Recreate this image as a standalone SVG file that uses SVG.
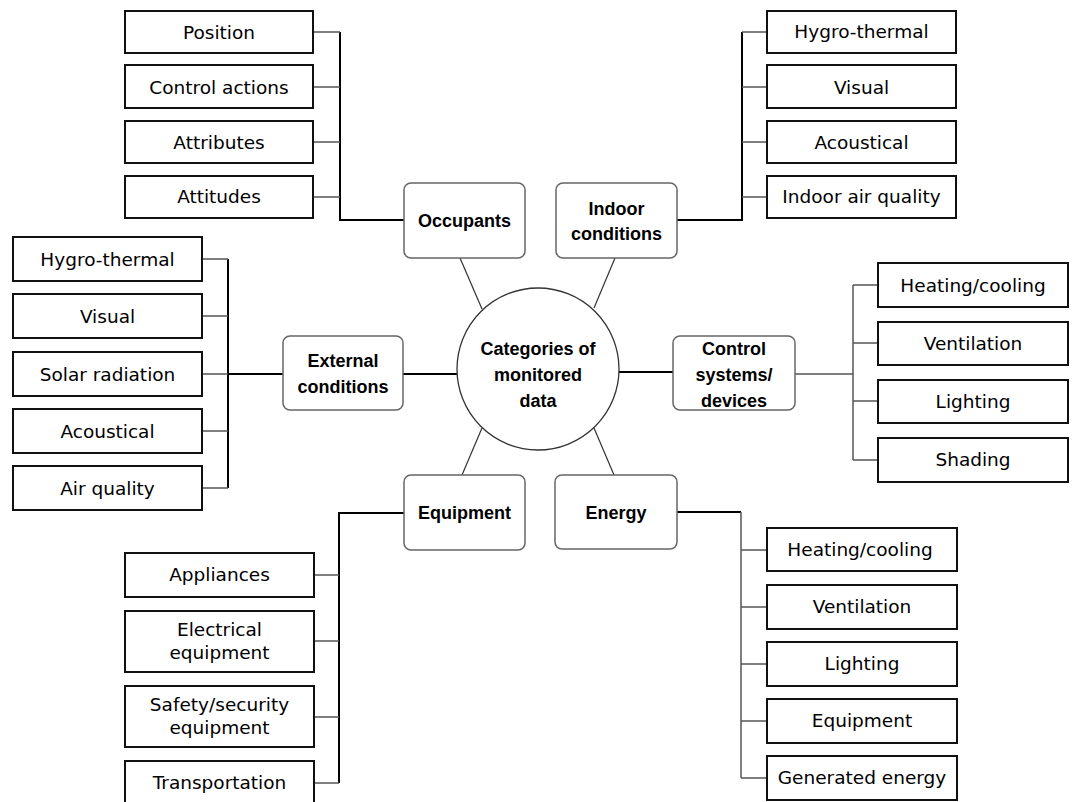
<svg xmlns="http://www.w3.org/2000/svg" width="1072" height="802" viewBox="0 0 1072 802">
<style>
.leaf rect{fill:#fff;stroke:#111;stroke-width:2}
.leaf text{font-family:"DejaVu Sans",Verdana,sans-serif;font-size:18.5px;fill:#000;text-anchor:middle}
.cat rect{fill:#fff;stroke:#666;stroke-width:1.5}
.cat text,.hub text{font-family:"Liberation Sans",Arial,sans-serif;font-weight:bold;font-size:18px;fill:#000;text-anchor:middle}
.hub circle{fill:#fff;stroke:#333;stroke-width:1.3}
.bus{stroke:#000;stroke-width:2;fill:none}
.stub{stroke:#555;stroke-width:1.5;fill:none}
.spoke{stroke:#333;stroke-width:1.2;fill:none}
</style>
<rect width="1072" height="802" fill="#fff"/>
<g id="connectors">
<!-- spokes -->
<line class="spoke" x1="460" y1="258" x2="482" y2="309"/>
<line class="spoke" x1="615" y1="258" x2="594" y2="308"/>
<line class="spoke" x1="482" y1="428" x2="462" y2="475"/>
<line class="spoke" x1="594" y1="428" x2="614" y2="475"/>
<line class="bus" x1="403" y1="374" x2="457" y2="374"/>
<line class="bus" x1="619" y1="372" x2="673" y2="372"/>
<!-- occupants -->
<polyline class="bus" points="340,32 340,220 404,220"/>
<line class="stub" x1="313" y1="32" x2="340" y2="32"/>
<line class="stub" x1="313" y1="87" x2="340" y2="87"/>
<line class="stub" x1="313" y1="142" x2="340" y2="142"/>
<line class="stub" x1="313" y1="197" x2="340" y2="197"/>
<!-- indoor -->
<polyline class="bus" points="742,32 742,220 677,220"/>
<line class="stub" x1="742" y1="32" x2="767" y2="32"/>
<line class="stub" x1="742" y1="87" x2="767" y2="87"/>
<line class="stub" x1="742" y1="142" x2="767" y2="142"/>
<line class="stub" x1="742" y1="197" x2="767" y2="197"/>
<!-- external -->
<line class="bus" x1="228" y1="259" x2="228" y2="488"/>
<line class="bus" x1="228" y1="374" x2="283" y2="374"/>
<line class="stub" x1="202" y1="259" x2="228" y2="259"/>
<line class="stub" x1="202" y1="316" x2="228" y2="316"/>
<line class="stub" x1="202" y1="374" x2="228" y2="374"/>
<line class="stub" x1="202" y1="431" x2="228" y2="431"/>
<line class="stub" x1="202" y1="488" x2="228" y2="488"/>
<!-- control -->
<line class="stub" x1="795" y1="374" x2="853" y2="374"/>
<line class="stub" x1="853" y1="285" x2="853" y2="460"/>
<line class="stub" x1="853" y1="285" x2="878" y2="285"/>
<line class="stub" x1="853" y1="343" x2="878" y2="343"/>
<line class="stub" x1="853" y1="401" x2="878" y2="401"/>
<line class="stub" x1="853" y1="460" x2="878" y2="460"/>
<!-- equipment -->
<polyline class="bus" points="404,513 339,513 339,783"/>
<line class="stub" x1="314" y1="575" x2="339" y2="575"/>
<line class="stub" x1="314" y1="641" x2="339" y2="641"/>
<line class="stub" x1="314" y1="717" x2="339" y2="717"/>
<line class="stub" x1="314" y1="783" x2="339" y2="783"/>
<!-- energy -->
<polyline class="bus" points="677,512 741,512"/>
<line class="stub" x1="741" y1="512" x2="741" y2="778"/>
<line class="stub" x1="741" y1="550" x2="767" y2="550"/>
<line class="stub" x1="741" y1="607" x2="767" y2="607"/>
<line class="stub" x1="741" y1="664" x2="767" y2="664"/>
<line class="stub" x1="741" y1="721" x2="767" y2="721"/>
<line class="stub" x1="741" y1="778" x2="767" y2="778"/>
</g>
<g id="hub" class="hub">
<circle cx="538" cy="369" r="81"/>
<text x="538" y="355">Categories of</text>
<text x="538" y="381">monitored</text>
<text x="538" y="407">data</text>
</g>
<g id="occupants" class="cat"><rect x="404" y="183" width="121" height="75" rx="7"/><text x="464.5" y="227">Occupants</text></g>
<g id="indoor" class="cat"><rect x="556" y="183" width="121" height="75" rx="7"/><text x="616.5" y="215">Indoor</text><text x="616.5" y="240">conditions</text></g>
<g id="external" class="cat"><rect x="283" y="336" width="120" height="74" rx="7"/><text x="343" y="367">External</text><text x="343" y="393">conditions</text></g>
<g id="control" class="cat"><rect x="673" y="336" width="122" height="74" rx="7"/><text x="734" y="355">Control</text><text x="734" y="381">systems/</text><text x="734" y="407">devices</text></g>
<g id="equipment" class="cat"><rect x="404" y="475" width="121" height="75" rx="7"/><text x="464.5" y="519">Equipment</text></g>
<g id="energy" class="cat"><rect x="555" y="475" width="122" height="74" rx="7"/><text x="616" y="519">Energy</text></g>
<g id="occ-position" class="leaf"><rect x="125" y="11" width="188" height="42"/><text x="219" y="39">Position</text></g>
<g id="occ-control" class="leaf"><rect x="125" y="65" width="188" height="43"/><text x="219" y="94">Control actions</text></g>
<g id="occ-attributes" class="leaf"><rect x="125" y="121" width="188" height="42"/><text x="219" y="149">Attributes</text></g>
<g id="occ-attitudes" class="leaf"><rect x="125" y="176" width="188" height="42"/><text x="219" y="203">Attitudes</text></g>
<g id="in-hygro" class="leaf"><rect x="767" y="11" width="189" height="42"/><text x="861.5" y="38">Hygro-thermal</text></g>
<g id="in-visual" class="leaf"><rect x="767" y="65" width="189" height="43"/><text x="861.5" y="94">Visual</text></g>
<g id="in-acoustical" class="leaf"><rect x="767" y="121" width="189" height="42"/><text x="861.5" y="149">Acoustical</text></g>
<g id="in-iaq" class="leaf"><rect x="767" y="176" width="189" height="42"/><text x="861.5" y="203">Indoor air quality</text></g>
<g id="ex-hygro" class="leaf"><rect x="13" y="237" width="189" height="44"/><text x="107.5" y="266">Hygro-thermal</text></g>
<g id="ex-visual" class="leaf"><rect x="13" y="294" width="189" height="44"/><text x="107.5" y="323">Visual</text></g>
<g id="ex-solar" class="leaf"><rect x="13" y="352" width="189" height="44"/><text x="107.5" y="381">Solar radiation</text></g>
<g id="ex-acoustical" class="leaf"><rect x="13" y="409" width="189" height="44"/><text x="107.5" y="438">Acoustical</text></g>
<g id="ex-air" class="leaf"><rect x="13" y="466" width="189" height="44"/><text x="107.5" y="495">Air quality</text></g>
<g id="cs-heating" class="leaf"><rect x="878" y="263" width="190" height="44"/><text x="973" y="292">Heating/cooling</text></g>
<g id="cs-ventilation" class="leaf"><rect x="878" y="322" width="190" height="43"/><text x="973" y="350">Ventilation</text></g>
<g id="cs-lighting" class="leaf"><rect x="878" y="380" width="190" height="43"/><text x="973" y="408">Lighting</text></g>
<g id="cs-shading" class="leaf"><rect x="878" y="438" width="190" height="44"/><text x="973" y="466">Shading</text></g>
<g id="eq-appliances" class="leaf"><rect x="125" y="553" width="189" height="44"/><text x="219.5" y="581">Appliances</text></g>
<g id="eq-electrical" class="leaf"><rect x="125" y="611" width="189" height="61"/><text x="219.5" y="636">Electrical</text><text x="219.5" y="659">equipment</text></g>
<g id="eq-safety" class="leaf"><rect x="125" y="686" width="189" height="61"/><text x="219.5" y="711">Safety/security</text><text x="219.5" y="734">equipment</text></g>
<g id="eq-transport" class="leaf"><rect x="125" y="761" width="189" height="46"/><text x="219.5" y="789">Transportation</text></g>
<g id="en-heating" class="leaf"><rect x="767" y="528" width="190" height="43"/><text x="860" y="556">Heating/cooling</text></g>
<g id="en-ventilation" class="leaf"><rect x="767" y="585" width="190" height="44"/><text x="862" y="613">Ventilation</text></g>
<g id="en-lighting" class="leaf"><rect x="767" y="642" width="190" height="44"/><text x="862" y="670">Lighting</text></g>
<g id="en-equipment" class="leaf"><rect x="767" y="699" width="190" height="44"/><text x="862" y="727">Equipment</text></g>
<g id="en-generated" class="leaf"><rect x="767" y="756" width="190" height="44"/><text x="862" y="784">Generated energy</text></g>
</svg>
